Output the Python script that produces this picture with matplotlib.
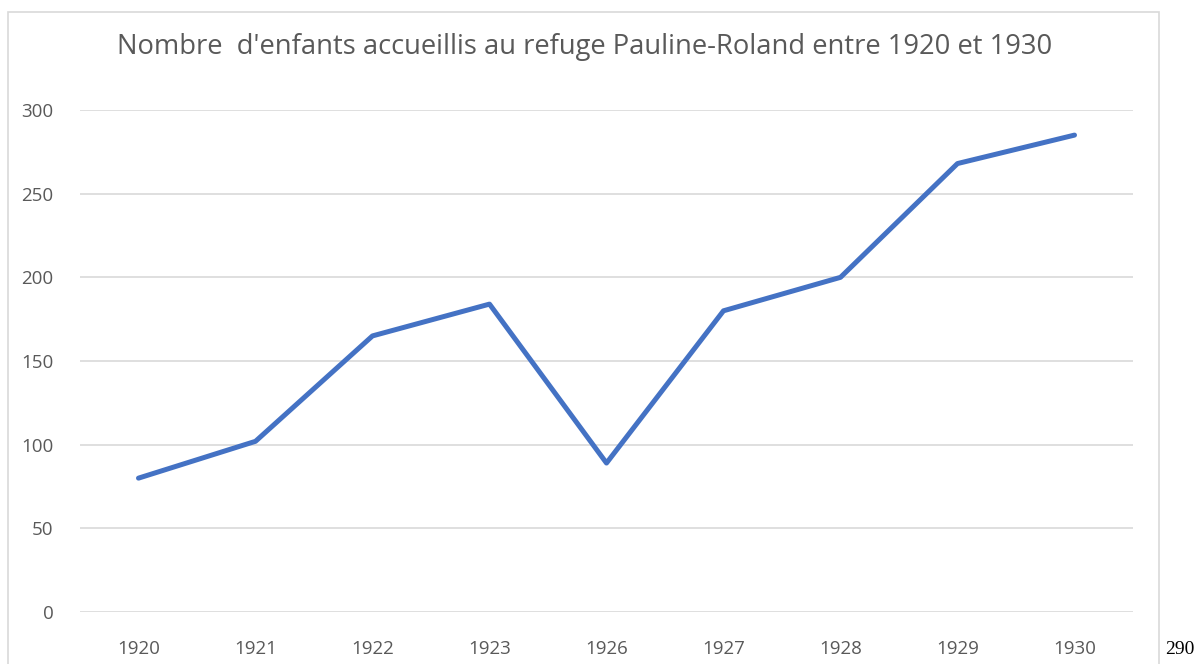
import matplotlib
matplotlib.use('Agg')
import matplotlib.pyplot as plt
from matplotlib.patches import Rectangle

# data
years = ['1920', '1921', '1922', '1923', '1926', '1927', '1928', '1929', '1930']
enfants = [80, 102, 165, 184, 89, 180, 200, 268, 285]
yticks = [0, 50, 100, 150, 200, 250, 300]

plt.rcParams['font.family'] = ['Open Sans', 'DejaVu Sans']

fig = plt.figure(figsize=(11.97, 6.64), dpi=100)

# light frame round the chart area (open at the bottom, as in the picture)
frame = Rectangle((8 / 1197, -0.05), 1151 / 1197, 1 - 12 / 664 + 0.05,
                  transform=fig.transFigure, fill=False,
                  edgecolor='#d9d9d9', linewidth=1.2)
fig.patches.append(frame)

ax = fig.add_axes([80 / 1197, 1 - 612 / 664, 1053 / 1197, 502 / 664])
x = range(len(years))
ax.plot(x, enfants, color='#4472C4', linewidth=3.6, solid_capstyle='round')

ax.set_xlim(-0.5, len(years) - 0.5)
ax.set_ylim(0, 300)
ax.set_yticks(yticks)
ax.set_xticks(list(x))
ax.set_xticklabels(years)
ax.grid(axis='y', color='#d9d9d9', linewidth=1.2)
ax.set_axisbelow(True)
for s in ax.spines.values():
    s.set_visible(False)
ax.tick_params(length=0, labelsize=13.5, colors='#595959')
ax.tick_params(axis='y', pad=19)
ax.tick_params(axis='x', pad=20)

fig.text(0.488, 1 - 47 / 664, "Nombre  d'enfants accueillis au refuge Pauline-Roland entre 1920 et 1930",
         ha='center', va='center', fontsize=19.7, color='#595959')

fig.text(1165 / 1197, 1 - 650 / 664, '290', family='Liberation Serif',
         fontsize=14, color='black', ha='left', va='center')

fig.savefig('out.png', dpi=100)
